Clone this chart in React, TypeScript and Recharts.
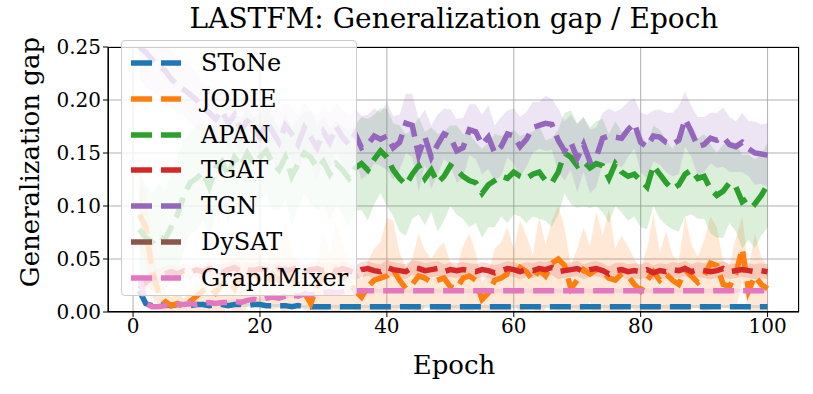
import React from 'react';
import { ComposedChart, Line, Area, XAxis, YAxis, CartesianGrid } from 'recharts';

const EPOCHS = Array.from({ length: 100 }, (_, i) => i + 1);

const STONE = [
  0.020, 0.008, 0.006, 0.006, 0.007, 0.006, 0.007, 0.007, 0.006, 0.007,
  0.007, 0.006, 0.007, 0.007, 0.006, 0.007, 0.007, 0.006, 0.007, 0.007,
  0.006, 0.006, 0.006, 0.006, 0.005, 0.006, 0.005, 0.005, 0.005, 0.005,
  0.005, 0.005, 0.005, 0.005, 0.005, 0.005, 0.005, 0.005, 0.005, 0.005,
  0.005, 0.005, 0.005, 0.005, 0.005, 0.005, 0.005, 0.005, 0.005, 0.005,
  0.005, 0.005, 0.005, 0.005, 0.005, 0.005, 0.005, 0.005, 0.005, 0.005,
  0.005, 0.005, 0.005, 0.005, 0.005, 0.005, 0.005, 0.005, 0.005, 0.005,
  0.005, 0.005, 0.005, 0.005, 0.005, 0.005, 0.005, 0.005, 0.005, 0.005,
  0.005, 0.005, 0.005, 0.005, 0.005, 0.005, 0.005, 0.005, 0.005, 0.005,
  0.005, 0.005, 0.005, 0.005, 0.005, 0.005, 0.005, 0.005, 0.005, 0.005,
];

const JODIE = [
  0.092, 0.080, 0.040, 0.018, 0.010, 0.006, 0.008, 0.005, 0.010, 0.015,
  0.020, 0.024, 0.018, 0.026, 0.030, 0.022, 0.034, 0.028, 0.038, 0.030,
  0.026, 0.036, 0.030, 0.040, 0.032, 0.026, 0.018, 0.008, 0.024, 0.036,
  0.030, 0.040, 0.034, 0.028, 0.020, 0.014, 0.024, 0.030, 0.032, 0.034,
  0.040, 0.030, 0.022, 0.026, 0.034, 0.032, 0.028, 0.030, 0.032, 0.024,
  0.022, 0.032, 0.034, 0.030, 0.012, 0.018, 0.030, 0.032, 0.036, 0.034,
  0.042, 0.038, 0.030, 0.040, 0.034, 0.046, 0.050, 0.044, 0.022, 0.030,
  0.040, 0.036, 0.040, 0.038, 0.032, 0.030, 0.036, 0.034, 0.026, 0.020,
  0.030, 0.038, 0.030, 0.036, 0.030, 0.026, 0.040, 0.034, 0.028, 0.034,
  0.046, 0.044, 0.026, 0.024, 0.036, 0.060, 0.020, 0.034, 0.026, 0.022,
];

const APAN = [
  0.078, 0.070, 0.066, 0.072, 0.068, 0.080, 0.092, 0.110, 0.122, 0.126,
  0.132, 0.118, 0.136, 0.142, 0.128, 0.146, 0.138, 0.150, 0.140, 0.146,
  0.152, 0.140, 0.134, 0.146, 0.128, 0.140, 0.150, 0.146, 0.136, 0.142,
  0.130, 0.140, 0.134, 0.126, 0.136, 0.140, 0.134, 0.144, 0.152, 0.146,
  0.134, 0.126, 0.120, 0.130, 0.138, 0.126, 0.134, 0.122, 0.128, 0.138,
  0.134, 0.128, 0.124, 0.122, 0.112, 0.120, 0.124, 0.128, 0.126, 0.132,
  0.128, 0.126, 0.130, 0.132, 0.124, 0.122, 0.132, 0.150, 0.146, 0.138,
  0.142, 0.136, 0.140, 0.138, 0.126, 0.140, 0.132, 0.128, 0.130, 0.124,
  0.118, 0.138, 0.130, 0.122, 0.116, 0.120, 0.130, 0.134, 0.126, 0.128,
  0.116, 0.110, 0.114, 0.122, 0.118, 0.104, 0.108, 0.102, 0.110, 0.120,
];

const TGAT = [
  0.022, 0.028, 0.032, 0.034, 0.036, 0.038, 0.036, 0.039, 0.037, 0.040,
  0.038, 0.041, 0.039, 0.037, 0.040, 0.042, 0.038, 0.040, 0.039, 0.041,
  0.040, 0.038, 0.041, 0.039, 0.040, 0.042, 0.038, 0.040, 0.041, 0.039,
  0.040, 0.038, 0.041, 0.039, 0.037, 0.040, 0.041, 0.039, 0.038, 0.042,
  0.040, 0.039, 0.038, 0.042, 0.041, 0.039, 0.040, 0.041, 0.038, 0.040,
  0.039, 0.040, 0.039, 0.038, 0.040, 0.039, 0.037, 0.039, 0.041, 0.040,
  0.038, 0.040, 0.039, 0.041, 0.040, 0.042, 0.038, 0.039, 0.040, 0.041,
  0.038, 0.040, 0.041, 0.039, 0.036, 0.039, 0.040, 0.038, 0.039, 0.038,
  0.040, 0.037, 0.039, 0.038, 0.040, 0.039, 0.041, 0.038, 0.040, 0.039,
  0.038, 0.039, 0.041, 0.038, 0.039, 0.040, 0.039, 0.038, 0.039, 0.038,
];

const TGN = [
  0.250, 0.245, 0.238, 0.232, 0.228, 0.220, 0.214, 0.210, 0.205, 0.200,
  0.192, 0.188, 0.182, 0.190, 0.178, 0.186, 0.172, 0.180, 0.175, 0.165,
  0.180, 0.170, 0.160, 0.176, 0.168, 0.158, 0.174, 0.165, 0.155, 0.170,
  0.160, 0.175, 0.165, 0.158, 0.168, 0.155, 0.158, 0.166, 0.163, 0.166,
  0.155, 0.160, 0.178, 0.176, 0.148, 0.165, 0.146, 0.158, 0.168, 0.165,
  0.152, 0.155, 0.172, 0.170, 0.158, 0.165, 0.150, 0.156, 0.168, 0.166,
  0.156, 0.163, 0.174, 0.176, 0.178, 0.177, 0.162, 0.152, 0.160, 0.145,
  0.158, 0.142, 0.146, 0.164, 0.166, 0.165, 0.164, 0.172, 0.178, 0.160,
  0.156, 0.166, 0.165, 0.160, 0.158, 0.162, 0.182, 0.170, 0.156, 0.158,
  0.164, 0.162, 0.165, 0.158, 0.156, 0.160, 0.154, 0.150, 0.149, 0.148,
];

// DySAT has no values in the plot, it only shows up in the legend
const DYSAT: (number | null)[] = EPOCHS.map(() => null);

const GRAPHMIXER = [
  0.034, 0.008, 0.005, 0.005, 0.006, 0.006, 0.007, 0.007, 0.008, 0.007,
  0.008, 0.009, 0.008, 0.009, 0.009, 0.010, 0.009, 0.011, 0.012, 0.011,
  0.013, 0.014, 0.013, 0.015, 0.016, 0.015, 0.017, 0.016, 0.018, 0.018,
  0.019, 0.018, 0.019, 0.020, 0.020, 0.020, 0.020, 0.020, 0.020, 0.020,
  0.020, 0.020, 0.020, 0.020, 0.020, 0.020, 0.020, 0.020, 0.020, 0.020,
  0.020, 0.020, 0.020, 0.020, 0.020, 0.020, 0.020, 0.020, 0.020, 0.020,
  0.020, 0.020, 0.020, 0.020, 0.020, 0.020, 0.020, 0.020, 0.020, 0.020,
  0.020, 0.020, 0.020, 0.020, 0.020, 0.020, 0.020, 0.020, 0.020, 0.020,
  0.020, 0.020, 0.020, 0.020, 0.020, 0.020, 0.020, 0.020, 0.020, 0.020,
  0.020, 0.020, 0.020, 0.020, 0.020, 0.020, 0.020, 0.020, 0.020, 0.020,
];

// spread of the shaded bands (+/- around the line)
const TGN_STD = [
  0.030, 0.032, 0.030, 0.028, 0.030, 0.026, 0.028, 0.025, 0.027, 0.026,
  0.024, 0.026, 0.025, 0.022, 0.026, 0.024, 0.027, 0.023, 0.025, 0.028,
  0.024, 0.026, 0.030, 0.022, 0.025, 0.028, 0.024, 0.026, 0.030, 0.024,
  0.028, 0.022, 0.026, 0.027, 0.024, 0.030, 0.028, 0.026, 0.025, 0.032,
  0.030, 0.026, 0.028, 0.030, 0.034, 0.026, 0.030, 0.028, 0.024, 0.026,
  0.030, 0.028, 0.024, 0.026, 0.028, 0.030, 0.026, 0.028, 0.022, 0.026,
  0.028, 0.026, 0.024, 0.022, 0.026, 0.024, 0.030, 0.028, 0.026, 0.032,
  0.026, 0.030, 0.028, 0.024, 0.026, 0.024, 0.028, 0.026, 0.024, 0.028,
  0.030, 0.024, 0.026, 0.028, 0.030, 0.032, 0.026, 0.024, 0.028, 0.026,
  0.024, 0.026, 0.028, 0.026, 0.024, 0.028, 0.026, 0.030, 0.028, 0.030,
];

const APAN_STD = [
  0.055, 0.050, 0.046, 0.050, 0.048, 0.052, 0.055, 0.052, 0.048, 0.050,
  0.046, 0.048, 0.044, 0.042, 0.046, 0.040, 0.045, 0.042, 0.044, 0.040,
  0.042, 0.044, 0.038, 0.040, 0.046, 0.042, 0.038, 0.044, 0.040, 0.042,
  0.044, 0.040, 0.042, 0.046, 0.040, 0.044, 0.048, 0.042, 0.040, 0.046,
  0.044, 0.050, 0.048, 0.042, 0.046, 0.044, 0.040, 0.046, 0.042, 0.038,
  0.042, 0.040, 0.044, 0.038, 0.042, 0.040, 0.044, 0.038, 0.042, 0.040,
  0.038, 0.042, 0.040, 0.044, 0.038, 0.042, 0.040, 0.038, 0.044, 0.040,
  0.042, 0.038, 0.040, 0.044, 0.042, 0.040, 0.038, 0.042, 0.040, 0.044,
  0.040, 0.038, 0.042, 0.040, 0.038, 0.044, 0.040, 0.042, 0.038, 0.040,
  0.042, 0.040, 0.044, 0.038, 0.042, 0.044, 0.040, 0.042, 0.038, 0.040,
];

const JODIE_STD = [
  0.030, 0.035, 0.025, 0.015, 0.010, 0.008, 0.010, 0.008, 0.012, 0.015,
  0.020, 0.025, 0.018, 0.030, 0.022, 0.026, 0.040, 0.022, 0.030, 0.024,
  0.020, 0.034, 0.026, 0.045, 0.024, 0.020, 0.016, 0.010, 0.022, 0.040,
  0.026, 0.045, 0.030, 0.022, 0.020, 0.016, 0.024, 0.030, 0.034, 0.055,
  0.046, 0.026, 0.020, 0.024, 0.040, 0.026, 0.022, 0.030, 0.034, 0.022,
  0.020, 0.030, 0.040, 0.026, 0.016, 0.018, 0.030, 0.034, 0.044, 0.026,
  0.044, 0.034, 0.024, 0.050, 0.030, 0.040, 0.050, 0.036, 0.022, 0.030,
  0.040, 0.026, 0.055, 0.034, 0.065, 0.030, 0.036, 0.028, 0.024, 0.022,
  0.030, 0.055, 0.026, 0.040, 0.024, 0.022, 0.050, 0.030, 0.024, 0.034,
  0.044, 0.036, 0.022, 0.020, 0.034, 0.030, 0.022, 0.040, 0.026, 0.022,
];

const TGAT_STD = 0.007;
const GRAPHMIXER_STD = 0.002;
const STONE_STD = 0.0015;

const X_TICKS = [0, 20, 40, 60, 80, 100];
const Y_TICKS = [0, 0.05, 0.1, 0.15, 0.2, 0.25];

const SERIES = [
  { key: 'STONE', name: 'SToNe', color: '#1f77b4', values: STONE, std: STONE.map(() => STONE_STD) },
  { key: 'JODIE', name: 'JODIE', color: '#ff7f0e', values: JODIE, std: JODIE_STD },
  { key: 'APAN', name: 'APAN', color: '#2ca02c', values: APAN, std: APAN_STD },
  { key: 'TGAT', name: 'TGAT', color: '#d62728', values: TGAT, std: TGAT.map(() => TGAT_STD) },
  { key: 'TGN', name: 'TGN', color: '#9467bd', values: TGN, std: TGN_STD },
  { key: 'DySAT', name: 'DySAT', color: '#8c564b', values: DYSAT, std: null },
  { key: 'GraphMixer', name: 'GraphMixer', color: '#e377c2', values: GRAPHMIXER, std: GRAPHMIXER.map(() => GRAPHMIXER_STD) },
];

const data = EPOCHS.map((epoch, i) => {
  const row: Record<string, any> = { epoch };
  SERIES.forEach((s) => {
    const v = s.values[i];
    row[s.key] = v;
    if (s.std && v != null) row[s.key + '_band'] = [v - s.std[i], v + s.std[i]];
  });
  return row;
});

const FONT = '"DejaVu Serif", serif';

const LegendBox = () => (
  <div
    style={{
      position: 'absolute',
      left: 121,
      top: 40,
      width: 236,
      height: 256,
      border: '1px solid #cccccc',
      borderRadius: 4,
      background: 'rgba(255,255,255,0.8)',
      fontFamily: FONT,
      fontSize: 24,
      boxSizing: 'border-box',
    }}
  >
    {SERIES.map((s, i) => (
      <div key={s.key} style={{ position: 'absolute', left: 8, top: 6 + i * 35.8, height: 32, display: 'flex', alignItems: 'center' }}>
        <svg width={52} height={10}>
          <line x1={1} y1={5} x2={51} y2={5} stroke={s.color} strokeWidth={5.5} strokeDasharray="21 9" />
        </svg>
        <span style={{ marginLeft: 19, lineHeight: '32px' }}>{s.name}</span>
      </div>
    ))}
  </div>
);

export default function App() {
  return (
    <div style={{ position: 'absolute', left: 0, top: 0, width: 813, height: 394, background: '#fff', fontFamily: FONT }}>
      <div style={{ position: 'absolute', left: 0, width: 908, top: 0, textAlign: 'center', fontSize: 28, lineHeight: '38px' }}>
        LASTFM: Generalization gap / Epoch
      </div>
      <ComposedChart width={813} height={394} data={data} margin={{ top: 47, right: 14, bottom: 52, left: 48 }}>
        <CartesianGrid stroke="#b0b0b0" strokeWidth={1} />
        <XAxis
          dataKey="epoch"
          type="number"
          domain={[-3.95, 104.95]}
          ticks={X_TICKS}
          allowDataOverflow
          height={30}
          tickSize={5}
          stroke="#000"
          tick={{ fill: '#000', fontSize: 20, fontFamily: FONT }}
        />
        <YAxis
          type="number"
          domain={[0, 0.25]}
          ticks={Y_TICKS}
          allowDataOverflow
          width={60}
          tickSize={5}
          stroke="#000"
          tickFormatter={(v: number) => v.toFixed(2)}
          tick={{ fill: '#000', fontSize: 20, fontFamily: FONT }}
        />
        {SERIES.filter((s) => s.std).map((s) => (
          <Area
            key={s.key + '_band'}
            type="linear"
            dataKey={s.key + '_band'}
            stroke="none"
            fill={s.color}
            fillOpacity={0.17}
            dot={false}
            activeDot={false}
            isAnimationActive={false}
          />
        ))}
        {SERIES.map((s) => (
          <Line
            key={s.key}
            type="linear"
            dataKey={s.key}
            stroke={s.color}
            strokeWidth={5.5}
            strokeDasharray="21 9"
            dot={false}
            activeDot={false}
            isAnimationActive={false}
          />
        ))}
      </ComposedChart>
      <div style={{ position: 'absolute', left: 108, top: 47, width: 691, height: 265, border: '1px solid #000', boxSizing: 'border-box', pointerEvents: 'none' }} />
      <LegendBox />
      <div style={{ position: 'absolute', left: 0, width: 908, top: 350, textAlign: 'center', fontSize: 26 }}>Epoch</div>
      <div
        style={{
          position: 'absolute',
          left: 30,
          top: 162,
          fontSize: 26,
          whiteSpace: 'nowrap',
          transform: 'translate(-50%, -50%) rotate(-90deg)',
        }}
      >
        Generalization gap
      </div>
    </div>
  );
}
